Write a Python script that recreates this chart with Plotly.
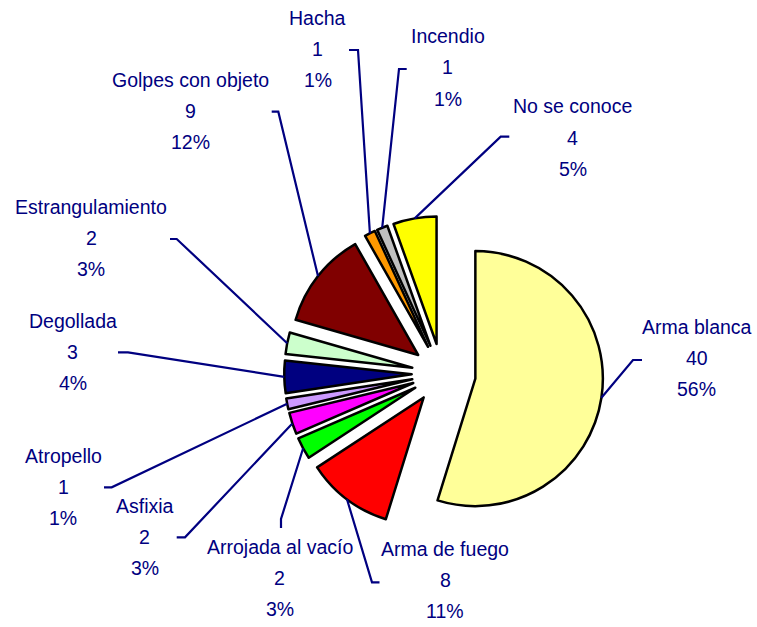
import math
import plotly.graph_objects as go

# ---- data ----
categories = ["Arma blanca", "Arma de fuego", "Arrojada al vacío", "Asfixia", "Atropello",
              "Degollada", "Estrangulamiento", "Golpes con objeto", "Hacha", "Incendio",
              "No se conoce"]
values = [40, 8, 2, 2, 1, 3, 2, 9, 1, 1, 4]
pct_labels = ["56%", "11%", "3%", "3%", "1%", "4%", "3%", "12%", "1%", "1%", "5%"]

# ---- styles / layout ----
colors = ["#FFFF99", "#FF0000", "#00FF00", "#FF00FF", "#CC99FF", "#000080",
          "#CCFFCC", "#800000", "#FF9900", "#C0C0C0", "#FFFF00"]
pulls = [0.267] + [0.235] * 10

W, H = 757, 627
CX, CY, R = 441.7, 373.5, 127.5          # pie centre / radius in pixels
half = R * (1 + max(pulls))
dom_x = [(CX - half) / W, (CX + half) / W]
dom_y = [(H - CY - half) / H, (H - CY + half) / H]

# label placement: centre x, first-line middle y, knee point, tick end (pixels)
label_layout = [
    (696.7, 326.5, (633, 360), (642, 360)),
    (445.0, 549.0, (372, 582.3), (379.5, 582.3)),
    (279.7, 547.0, (281, 519), (281, 528)),
    (144.7, 506.0, (185, 537.3), (176.7, 537.3)),
    (63.3, 456.0, (111.7, 487.3), (104, 487.3)),
    (72.7, 321.0, (128, 352.3), (118, 352.3)),
    (91.0, 207.0, (176.7, 239), (170, 239)),
    (190.0, 80.0, (278.3, 111.7), (271.7, 111.7)),
    (317.5, 17.7, (358, 50), (349, 50)),
    (447.5, 36.5, (399, 69), (406.7, 69)),
    (572.5, 106.5, (500.7, 136.7), (509.3, 136.7)),
]
LINE_GAP = 31
TEXT_COLOR = "#000080"
FONT = dict(family="Liberation Sans, Arial, sans-serif", size=19.5, color=TEXT_COLOR)


def px(x):
    return x / W


def py(y):
    return 1 - y / H


fig = go.Figure(go.Pie(
    labels=categories,
    values=values,
    sort=False,
    direction="clockwise",
    rotation=0,
    pull=pulls,
    marker=dict(colors=colors, line=dict(color="black", width=2.5)),
    textinfo="none",
    hoverinfo="label+value+percent",
    domain=dict(x=dom_x, y=dom_y),
    showlegend=False,
))

total = sum(values)
annotations = []
shapes = []
cum = 0
for i, (cat, v, pct) in enumerate(zip(categories, values, pct_labels)):
    mid = (cum + v / 2) / total * 2 * math.pi
    cum += v
    dist = (1 + pulls[i]) * R
    ax = CX + dist * math.sin(mid)
    ay = CY - dist * math.cos(mid)
    lx, ly, knee, tick = label_layout[i]
    for k, t in enumerate([cat, str(v), pct]):
        annotations.append(dict(
            x=px(lx), y=py(ly + k * LINE_GAP), xref="paper", yref="paper",
            text=t, showarrow=False, xanchor="center", yanchor="middle",
            font=FONT,
        ))
    path = (f"M {px(ax)} {py(ay)} L {px(knee[0])} {py(knee[1])} "
            f"L {px(tick[0])} {py(tick[1])}")
    shapes.append(dict(type="path", xref="paper", yref="paper", path=path,
                       line=dict(color=TEXT_COLOR, width=2.2)))

fig.update_layout(
    width=W, height=H,
    margin=dict(l=0, r=0, t=0, b=0),
    paper_bgcolor="white",
    plot_bgcolor="white",
    annotations=annotations,
    shapes=shapes,
)

fig.write_html("out.html", config={"displayModeBar": False},
               post_script="document.body.style.margin='0';")
